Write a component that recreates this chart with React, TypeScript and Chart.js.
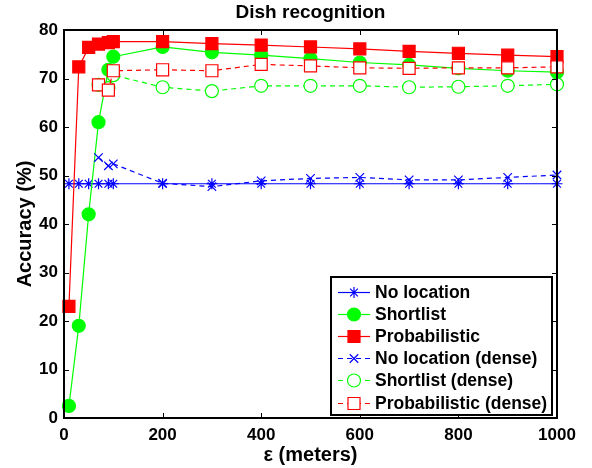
import { useEffect, useRef } from 'react';
import { Chart, registerables } from 'chart.js';
import { drawPoint } from 'chart.js/helpers';

Chart.register(...registerables);

const TITLE = 'Dish recognition';
const X_LABEL = 'ε (meters)';
const Y_LABEL = 'Accuracy (%)';

const X_FULL = [10, 30, 50, 70, 90, 100, 200, 300, 400, 500, 600, 700, 800, 900, 1000];
const X_DENSE = [70, 90, 100, 200, 300, 400, 500, 600, 700, 800, 900, 1000];

const NO_LOCATION = [48.3, 48.3, 48.3, 48.3, 48.3, 48.3, 48.3, 48.3, 48.3, 48.3, 48.3, 48.3, 48.3, 48.3, 48.3];
const SHORTLIST = [2.5, 19, 42, 61, 71.8, 74.5, 76.5, 75.4, 74.8, 74.1, 73.3, 72.8, 72.1, 71.6, 71.3];
const PROBABILISTIC = [23, 72.4, 76.4, 77.1, 77.4, 77.6, 77.6, 77.2, 76.9, 76.5, 76.1, 75.6, 75.2, 74.8, 74.5];

const NO_LOCATION_DENSE = [53.7, 52.0, 52.4, 48.4, 47.7, 48.9, 49.4, 49.6, 49.1, 49.1, 49.6, 50.1];
const SHORTLIST_DENSE = [68.7, 68.0, 70.7, 68.2, 67.4, 68.5, 68.5, 68.5, 68.2, 68.3, 68.5, 68.8];
const PROBABILISTIC_DENSE = [68.7, 67.6, 71.6, 71.8, 71.6, 72.9, 72.6, 72.2, 72.1, 72.2, 72.2, 72.4];

const LABELS = [
  'No location',
  'Shortlist',
  'Probabilistic',
  'No location (dense)',
  'Shortlist (dense)',
  'Probabilistic (dense)',
];

const X_TICKS = [0, 200, 400, 600, 800, 1000];
const Y_TICKS = [0, 10, 20, 30, 40, 50, 60, 70, 80];

const FONT = '"Liberation Sans", Arial, Helvetica, sans-serif';
const BLUE = '#0000ff';
const GREEN = '#00ff00';
const RED = '#ff0000';

const pts = (xs: number[], ys: number[]) => xs.map((x, i) => ({ x, y: ys[i] }));

const framePlugin = {
  id: 'frame',
  afterDatasetsDraw(chart: any) {
    const { ctx, chartArea } = chart;
    const { left, right, top, bottom } = chartArea;
    const xs = chart.scales.x;
    const ys = chart.scales.y;
    ctx.save();
    ctx.strokeStyle = '#000';
    ctx.lineWidth = 1;
    ctx.beginPath();
    X_TICKS.forEach((v) => {
      const px = Math.round(xs.getPixelForValue(v)) + 0.5;
      ctx.moveTo(px, bottom);
      ctx.lineTo(px, bottom - 5);
      ctx.moveTo(px, top);
      ctx.lineTo(px, top + 5);
    });
    Y_TICKS.forEach((v) => {
      const py = Math.round(ys.getPixelForValue(v)) + 0.5;
      ctx.moveTo(left, py);
      ctx.lineTo(left + 5, py);
      ctx.moveTo(right, py);
      ctx.lineTo(right - 5, py);
    });
    ctx.stroke();
    ctx.lineWidth = 2;
    ctx.strokeRect(left, top, right - left, bottom - top);
    // title
    ctx.fillStyle = '#000';
    ctx.font = `bold 19px ${FONT}`;
    ctx.textAlign = 'center';
    ctx.textBaseline = 'middle';
    ctx.fillText(TITLE, (left + right) / 2, top - 17);
    ctx.restore();
  },
};

const legendPlugin = {
  id: 'boxLegend',
  afterDraw(chart: any) {
    const { ctx, chartArea } = chart;
    const w = 221;
    const h = 138;
    const x0 = chartArea.right - 226;
    const y0 = chartArea.bottom - 3 - h;
    ctx.save();
    ctx.fillStyle = '#fff';
    ctx.fillRect(x0, y0, w, h);
    ctx.lineWidth = 2;
    ctx.strokeStyle = '#000';
    ctx.strokeRect(x0, y0, w, h);
    chart.data.datasets.forEach((ds: any, i: number) => {
      const cy = Math.round(y0 + 15 + i * 22.1) + 0.5;
      ctx.save();
      ctx.beginPath();
      ctx.setLineDash(ds.borderDash || []);
      ctx.strokeStyle = ds.borderColor;
      ctx.lineWidth = ds.borderWidth;
      ctx.moveTo(x0 + 7, cy);
      ctx.lineTo(x0 + 39, cy);
      ctx.stroke();
      ctx.setLineDash([]);
      ctx.fillStyle = ds.pointBackgroundColor;
      ctx.strokeStyle = ds.pointBorderColor;
      ctx.lineWidth = ds.pointBorderWidth;
      drawPoint(
        ctx,
        { pointStyle: ds.pointStyle, radius: ds.pointRadius, borderWidth: ds.pointBorderWidth, rotation: 0 },
        x0 + 23,
        cy
      );
      ctx.restore();
      ctx.fillStyle = '#000';
      ctx.font = `bold 17.5px ${FONT}`;
      ctx.textAlign = 'left';
      ctx.textBaseline = 'middle';
      ctx.fillText(ds.label, x0 + 44, cy + 1);
    });
    ctx.restore();
  },
};

export default function App() {
  const ref = useRef<HTMLCanvasElement | null>(null);

  useEffect(() => {
    const canvas = ref.current;
    if (!canvas) return;
    const mk = (
      label: string,
      data: { x: number; y: number }[],
      color: string,
      style: string,
      radius: number,
      filled: boolean,
      dashed: boolean,
      order: number
    ) => ({
      label,
      data,
      borderColor: color,
      borderWidth: 1.2,
      borderDash: dashed ? [5, 4] : [],
      pointStyle: style,
      pointRadius: radius,
      pointBackgroundColor: filled ? color : '#ffffff',
      pointBorderColor: color,
      pointBorderWidth: 1.2,
      pointHoverRadius: radius,
      tension: 0,
      fill: false,
      clip: false as any,
      order,
    });

    const chart = new Chart(canvas, {
      type: 'line',
      data: {
        datasets: [
          mk(LABELS[0], pts(X_FULL, NO_LOCATION), BLUE, 'star', 5.5, false, false, 6),
          mk(LABELS[1], pts(X_FULL, SHORTLIST), GREEN, 'circle', 6.5, true, false, 5),
          mk(LABELS[2], pts(X_FULL, PROBABILISTIC), RED, 'rect', 8.5, true, false, 4),
          mk(LABELS[3], pts(X_DENSE, NO_LOCATION_DENSE), BLUE, 'crossRot', 6, false, true, 3),
          mk(LABELS[4], pts(X_DENSE, SHORTLIST_DENSE), GREEN, 'circle', 6.5, false, true, 2),
          mk(LABELS[5], pts(X_DENSE, PROBABILISTIC_DENSE), RED, 'rect', 8.5, false, true, 1),
        ] as any,
      },
      options: {
        animation: false,
        responsive: false,
        maintainAspectRatio: false,
        layout: { padding: { top: 30, right: 35, left: 0, bottom: 0 } },
        plugins: {
          legend: { display: false },
          title: { display: false },
          tooltip: { enabled: false },
        },
        scales: {
          x: {
            type: 'linear',
            min: 0,
            max: 1000,
            afterBuildTicks: (s: any) => {
              s.ticks = X_TICKS.map((v) => ({ value: v }));
            },
            afterFit: (s: any) => {
              s.height = 50;
            },
            grid: { display: false, drawTicks: false },
            border: { display: false },
            ticks: {
              padding: 7,
              color: '#000',
              font: { family: FONT, size: 17, weight: 'bold' },
              maxRotation: 0,
              callback: (v: any) => String(v),
            },
            title: {
              display: true,
              text: X_LABEL,
              color: '#000',
              font: { family: FONT, size: 20, weight: 'bold' },
              padding: { top: 0, bottom: 1 },
            },
          },
          y: {
            type: 'linear',
            min: 0,
            max: 80,
            afterBuildTicks: (s: any) => {
              s.ticks = Y_TICKS.map((v) => ({ value: v }));
            },
            afterFit: (s: any) => {
              s.width = 64;
            },
            grid: { display: false, drawTicks: false },
            border: { display: false },
            ticks: {
              padding: 6,
              color: '#000',
              font: { family: FONT, size: 17, weight: 'bold' },
              callback: (v: any) => String(v),
            },
            title: {
              display: true,
              text: Y_LABEL,
              color: '#000',
              font: { family: FONT, size: 20, weight: 'bold' },
              padding: { top: 13, bottom: 0 },
            },
          },
        },
      } as any,
      plugins: [framePlugin, legendPlugin],
    });
    return () => chart.destroy();
  }, []);

  return (
    <div style={{ position: 'fixed', left: 0, top: 0, width: 592, height: 468, background: '#fff' }}>
      <canvas ref={ref} width={592} height={468} style={{ width: 592, height: 468, display: 'block' }} />
    </div>
  );
}
